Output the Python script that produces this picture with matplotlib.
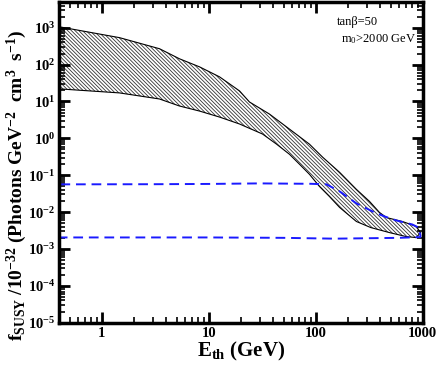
import matplotlib
matplotlib.use("Agg")
import matplotlib.pyplot as plt
from matplotlib.ticker import FixedLocator, FixedFormatter, LogLocator, NullFormatter

# ---- data ----
band_upper_x = [0.41, 1.46, 3.46, 5.32, 8.19, 12.6, 19.4, 24.0, 36.9, 56.8, 87.3,
                116, 167, 240, 318, 394, 458, 646, 873, 952]
band_upper_y = [1050, 540, 270, 144, 87, 46.6, 19.3, 9.7, 4.56, 1.78, 0.695,
                0.308, 0.12, 0.0413, 0.0195, 0.0098, 0.0071, 0.00555, 0.00407, 0.00278]
band_lower_x = [0.41, 1.46, 3.46, 5.32, 8.19, 12.6, 19.4, 31.8, 42.9, 56.8, 70.3,
                87.3, 108, 134, 167, 240, 327, 488, 703, 873, 952]
band_lower_y = [21.9, 17.1, 11.7, 7.54, 5.5, 3.78, 2.45, 1.31, 0.70, 0.37, 0.20,
                0.106, 0.05, 0.0266, 0.0134, 0.00555, 0.0038, 0.00278, 0.00216, 0.00203, 0.00278]

dash_upper_x = [0.41, 3, 10, 30, 60, 90, 126, 167, 240, 354, 441, 569, 801, 912, 952]
dash_upper_y = [0.0565, 0.057, 0.058, 0.060, 0.059, 0.0585, 0.0565, 0.0365, 0.0172,
                0.0098, 0.0076, 0.0059, 0.0046, 0.0038, 0.0023]
dash_lower_x = [0.41, 3, 10, 50, 150, 300, 600, 952]
dash_lower_y = [0.00205, 0.00205, 0.00205, 0.0020, 0.0019, 0.00195, 0.0020, 0.0021]

xticks = [1, 10, 100, 1000]
xtick_labels = ["1", "10", "100", "1000"]
yticks = [1e-5, 1e-4, 1e-3, 1e-2, 1e-1, 1e0, 1e1, 1e2, 1e3]
ytick_labels = [r"$\mathbf{10^{-5}}$", r"$\mathbf{10^{-4}}$", r"$\mathbf{10^{-3}}$",
                r"$\mathbf{10^{-2}}$", r"$\mathbf{10^{-1}}$", r"$\mathbf{10^{0}}$",
                r"$\mathbf{10^{1}}$", r"$\mathbf{10^{2}}$", r"$\mathbf{10^{3}}$"]

plt.rcParams["font.family"] = ["Liberation Serif", "DejaVu Serif"]
plt.rcParams["mathtext.fontset"] = "custom"
plt.rcParams["mathtext.rm"] = "Liberation Serif"
plt.rcParams["mathtext.it"] = "Liberation Serif:italic"
plt.rcParams["mathtext.bf"] = "Liberation Serif:bold"
plt.rcParams["hatch.linewidth"] = 0.6

fig = plt.figure(figsize=(4.36, 3.65), dpi=100)
ax = fig.add_axes([0.136, 0.116, 0.8335, 0.8785])
ax.set_xscale("log")
ax.set_yscale("log")

# hatched band
poly_x = band_upper_x + band_lower_x[::-1]
poly_y = band_upper_y + band_lower_y[::-1]
ax.fill(poly_x, poly_y, facecolor="none", edgecolor="#333333", hatch="\\" * 9, linewidth=0)
ax.plot(band_upper_x, band_upper_y, color="black", lw=0.8)
ax.plot(band_lower_x, band_lower_y, color="black", lw=0.8)
ax.plot([band_upper_x[-1], band_lower_x[-1]], [band_upper_y[-1], band_lower_y[-1]], color="black", lw=0.8)

# blue dashed contour
dx = dash_upper_x + dash_lower_x[::-1]
dy = dash_upper_y + dash_lower_y[::-1]
ax.plot(dx, dy, color="#1a1aff", lw=1.4, ls=(0, (5, 3)))

ax.set_xlim(0.4, 1000)
ax.set_ylim(1e-5, 5e3)

ax.xaxis.set_major_locator(FixedLocator(xticks))
ax.xaxis.set_major_formatter(FixedFormatter(xtick_labels))
ax.xaxis.set_minor_locator(LogLocator(base=10, subs=range(2, 10), numticks=20))
ax.xaxis.set_minor_formatter(NullFormatter())
ax.yaxis.set_major_locator(FixedLocator(yticks))
ax.yaxis.set_major_formatter(FixedFormatter(ytick_labels))
ax.yaxis.set_minor_locator(LogLocator(base=10, subs=range(2, 10), numticks=20))
ax.yaxis.set_minor_formatter(NullFormatter())

ax.tick_params(which="major", direction="in", length=8, width=2, top=True, right=True,
               labelsize=10.5, pad=3)
ax.tick_params(which="minor", direction="in", length=4, width=1.2, top=True, right=True)
for lab in ax.get_xticklabels():
    lab.set_fontweight("bold")
for sp in ax.spines.values():
    sp.set_linewidth(2.5)

ax.set_xlabel(r"$\mathbf{E_{th}}$ (GeV)", fontsize=15, fontweight="bold", labelpad=0)
ax.set_ylabel(r"$\mathbf{f_{SUSY}\ /10^{-32}\ (Photons\ GeV^{-2}\ \ cm^{3}\ \ s^{-1})}$",
              fontsize=14, va="center", ha="center")
ax.yaxis.set_label_coords(-0.118, 0.43)

ax.text(0.765, 0.955, "tanβ=50", transform=ax.transAxes, fontsize=9, va="top")
ax.text(0.775, 0.905, r"m$_0$>2000 GeV", transform=ax.transAxes, fontsize=9, va="top")

fig.savefig("out.png", dpi=100)
